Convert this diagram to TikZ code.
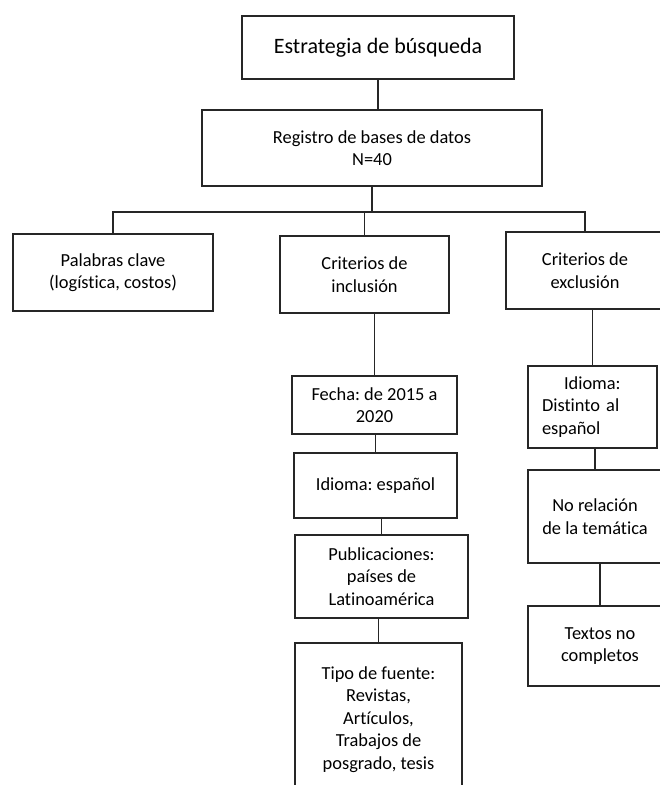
\documentclass[tikz,border=0pt]{standalone}
\usepackage{fontspec}
\setmainfont{Carlito}[Ligatures=NoCommon]
\frenchspacing
\tikzset{
  blk/.style={draw=black!85,line width=1.8pt,align=center,inner sep=0pt,
    font=\fontsize{18.4}{22.5}\selectfont},   % box of the tree
  big/.style={font=\fontsize{22}{26}\selectfont},
  lnk/.style={black!85,line width=1.8pt},      % plain connector
}

\begin{document}
\begin{tikzpicture}[x=1pt,y=-1pt]
  \useasboundingbox (0,0) rectangle (660,785);
  \clip (0,0) rectangle (660,785);
  % head
  \node[blk,big,minimum width=272pt,minimum height=63pt] (est) at (378,47.5) {Estrategia de búsqueda};
  \node[blk,minimum width=340pt,minimum height=76pt] (reg) at (372,148) {Registro de bases de datos\\N=40};
  \coordinate (bus) at (0,212);
  % three branches
  \node[blk,minimum width=200pt,minimum height=77pt] (pal) at (113,272.5) {Palabras clave\\(logística, costos)};
  \node[blk,minimum width=169pt,minimum height=77pt] (inc) at (364.5,274.5) {Criterios de\\inclusión};
  \node[blk,minimum width=158pt,minimum height=77pt] (exc) at (585,270.5) {Criterios de\\exclusión};
  % inclusion
  \node[blk,minimum width=165pt,minimum height=58pt] (fec) at (374.5,405) {Fecha: de 2015 a\\2020};
  \node[blk,minimum width=163pt,minimum height=65pt] (idi) at (375.5,485.5) {Idioma: español};
  \node[blk,minimum width=173pt,minimum height=83pt] (pub) at (381.5,576.5) {Publicaciones:\\países de\\Latinoamérica};
  \node[blk,minimum width=167pt,minimum height=153pt] (tip) at (378.5,719.5) {Tipo de fuente:\\Revistas,\\Artículos,\\Trabajos de\\posgrado, tesis};
  % exclusion
  \node[blk,align=left,text width=101pt,minimum width=129pt,minimum height=82pt] (ide) at (592.5,407) {\hspace*{22pt}Idioma:\\Distinto al\\español};
  \node[blk,minimum width=134pt,minimum height=93pt] (nor) at (595,516.5) {No relación\\de la temática};
  \node[blk,minimum width=144pt,minimum height=80pt] (txt) at (600,646) {Textos no\\completos};

  \draw[lnk] (est.south) -- (est.south |- reg.north);
  \draw[lnk] (reg.south) -- (reg.south |- bus);
  \draw[lnk] (pal.north) |- (bus -| exc.north) -- (exc.north);
  \draw[lnk] (bus -| inc.north) -- (inc.north);
  \draw[lnk] (inc.south -| fec.north) -- (fec.north);
  \draw[lnk] (fec.south -| idi.north) -- (idi.north);
  \draw[lnk] (idi.south -| pub.north) -- (pub.north);
  \draw[lnk] (pub.south -| tip.north) -- (tip.north);
  \draw[lnk] (exc.south -| ide.north) -- (ide.north);
  \draw[lnk] (ide.south -| nor.north) -- (nor.north);
  \draw[lnk] (nor.south -| txt.north) -- (txt.north);
\end{tikzpicture}
\end{document}
